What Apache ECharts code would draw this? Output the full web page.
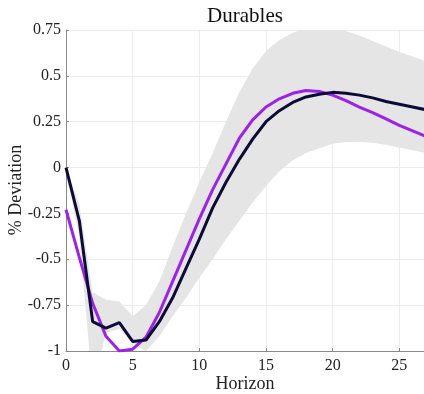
<!DOCTYPE html>
<html>
<head>
<meta charset="utf-8">
<script src="https://cdn.jsdelivr.net/npm/echarts@6/dist/echarts.min.js"></script>
<style>
  html, body { margin: 0; padding: 0; background: #fff; }
  #chart { width: 424px; height: 394px; }
</style>
</head>
<body>
<div id="chart"></div>
<script>
// horizons 0..27
const horizon = [0, 1, 2, 3, 4, 5, 6, 7, 8, 9, 10, 11, 12, 13, 14, 15, 16, 17, 18, 19, 20, 21, 22, 23, 24, 25, 26, 27]

// dark line
const navyIrf = [0, -0.29, -0.84, -0.875, -0.845, -0.948, -0.94, -0.84, -0.71, -0.55, -0.39, -0.22, -0.08, 0.045,
  0.155, 0.25, 0.31, 0.355, 0.385, 0.40, 0.41, 0.405, 0.395, 0.38, 0.36, 0.345, 0.33, 0.315]

// purple line
const purpleIrf = [-0.23, -0.49, -0.74, -0.92, -1.0, -0.99, -0.925, -0.79, -0.62, -0.45, -0.28, -0.12, 0.02, 0.16,
  0.26, 0.33, 0.375, 0.405, 0.42, 0.415, 0.395, 0.365, 0.33, 0.30, 0.265, 0.23, 0.20, 0.17]

// grey band
const bandUpper = [0, -0.2, -0.68, -0.72, -0.73, -0.81, -0.75, -0.62, -0.43, -0.25, -0.08, 0.08, 0.25, 0.41,
  0.54, 0.635, 0.695, 0.735, 0.76, 0.78, 0.765, 0.745, 0.72, 0.69, 0.66, 0.63, 0.605, 0.58]
const bandLower = [-0.02, -0.38, -1.2, -0.9, -0.88, -0.96, -1.0, -0.92, -0.81, -0.71, -0.6, -0.5, -0.39, -0.29,
  -0.19, -0.1, -0.02, 0.04, 0.08, 0.105, 0.13, 0.14, 0.14, 0.135, 0.125, 0.11, 0.095, 0.08]

const xTicks = [0, 5, 10, 15, 20, 25]
const yTicks = [-1, -0.75, -0.5, -0.25, 0, 0.25, 0.5, 0.75]

const font = 'Liberation Serif'
const pairs = arr => arr.map((v, i) => [horizon[i], v])

const chart = echarts.init(document.getElementById('chart'))

chart.setOption({
  animation: false,
  title: {
    text: 'Durables',
    left: 240,
    top: 1,
    textAlign: 'center',
    textStyle: { fontFamily: font, fontSize: 21, fontWeight: 'normal', color: '#111' }
  },
  // y axis title, placed by hand (axis name kept drifting off to the left)
  graphic: [{
    type: 'text',
    x: 16,
    y: 190,
    rotation: Math.PI / 2,
    style: {
      text: '% Deviation',
      font: '18px "Liberation Serif"',
      fill: '#222',
      align: 'center',
      verticalAlign: 'middle'
    }
  }],
  grid: {
    left: 66,
    right: 0,
    top: 30,
    bottom: 43,
    containLabel: false,
    outerBoundsMode: 'none'
  },
  xAxis: {
    type: 'value',
    min: 0,
    max: 26.85,
    interval: 5,
    name: 'Horizon',
    nameLocation: 'middle',
    nameGap: 24,
    nameMoveOverlap: false,
    nameTextStyle: { fontFamily: font, fontSize: 18, color: '#222' },
    axisLine: { onZero: false, lineStyle: { color: '#888', width: 1 } },
    axisTick: { inside: true, length: 3, lineStyle: { color: '#888' } },
    axisLabel: {
      fontFamily: font, fontSize: 16, color: '#222', margin: 7,
      formatter: v => xTicks.includes(v) ? String(v) : ''
    },
    splitLine: { show: true, lineStyle: { color: '#ececec', width: 1 } }
  },
  yAxis: {
    type: 'value',
    min: -1,
    max: 0.75,
    interval: 0.25,
    axisLine: { show: true, onZero: false, lineStyle: { color: '#888', width: 1 } },
    axisTick: { show: true, inside: true, length: 3, lineStyle: { color: '#888' } },
    axisLabel: {
      fontFamily: font, fontSize: 16, color: '#222', margin: 5,
      formatter: v => yTicks.includes(v) ? String(v) : ''
    },
    splitLine: { show: true, lineStyle: { color: '#ececec', width: 1 } }
  },
  series: [{
    name: 'band',
    type: 'custom',
    clip: true,
    data: [0],
    renderItem: (params, api) => {
      const top = bandUpper.map((v, i) => api.coord([horizon[i], v]))
      const bottom = bandLower.map((v, i) => api.coord([horizon[i], v])).reverse()
      return {
        type: 'polygon',
        shape: { points: top.concat(bottom) },
        style: { fill: '#e5e5e5' }
      }
    },
    z: 1
  }, {
    name: 'purple',
    type: 'line',
    symbol: 'none',
    lineStyle: { color: '#9d21ec', width: 3 },
    data: pairs(purpleIrf),
    z: 2
  }, {
    name: 'navy',
    type: 'line',
    symbol: 'none',
    lineStyle: { color: '#0c0b38', width: 3 },
    data: pairs(navyIrf),
    z: 3
  }]
})
</script>
</body>
</html>
